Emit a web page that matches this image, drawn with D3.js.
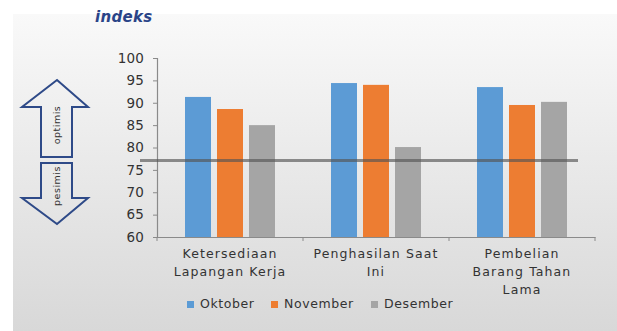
<!DOCTYPE html>
<html><head><meta charset="utf-8">
<script src="https://cdn.jsdelivr.net/npm/d3@7"></script>
<style>
html,body{margin:0;padding:0;background:#fff;}
svg{display:block;}
text{font-family:"DejaVu Sans",sans-serif;fill:#333;}
</style></head>
<body>
<svg id="c" width="617" height="331"></svg>
<script>
const categories = ["Ketersediaan Lapangan Kerja", "Penghasilan Saat Ini", "Pembelian Barang Tahan Lama"];
const categoryLines = [["Ketersediaan", "Lapangan Kerja"], ["Penghasilan Saat", "Ini"], ["Pembelian", "Barang Tahan", "Lama"]];
const seriesNames = ["Oktober", "November", "Desember"];
const oktober = [91.3, 94.4, 93.5];
const november = [88.6, 94.0, 89.5];
const desember = [85.0, 80.1, 90.2];
const yTicks = [60, 65, 70, 75, 80, 85, 90, 95, 100];
const threshold = 77.1;
const colors = ["#5b9bd5", "#ed7d31", "#a5a5a5"];
const yTitle = "indeks";
const arrowLabels = ["optimis", "pesimis"];

const series = [oktober, november, desember];
const svg = d3.select("#c");

// background gradient panel
const defs = svg.append("defs");
const g0 = defs.append("linearGradient").attr("id", "bg").attr("x1", 0).attr("y1", 0).attr("x2", 0).attr("y2", 1);
g0.append("stop").attr("offset", "0%").attr("stop-color", "#f9f9f9");
g0.append("stop").attr("offset", "100%").attr("stop-color", "#d8d8d8");
const blur = defs.append("filter").attr("id", "sh").attr("x", "-20%").attr("y", "-20%").attr("width", "140%").attr("height", "140%");
blur.append("feGaussianBlur").attr("stdDeviation", 0.5);
svg.append("rect").attr("x", 13).attr("y", 14).attr("width", 604).attr("height", 317).attr("fill", "url(#bg)");

const x = d3.scaleBand().domain(categories).range([157, 595]).padding(0);
const xi = d3.scaleBand().domain(seriesNames).range([28, 118]).paddingInner(0.1875).paddingOuter(0);
const y = d3.scaleLinear().domain([60, 100]).range([237, 58]);

// bars
const groups = svg.append("g").selectAll("g").data(categories).join("g")
  .attr("transform", d => `translate(${x(d)},0)`);
groups.selectAll("rect").data((d, i) => seriesNames.map((s, j) => ({ s, v: series[j][i], c: colors[j] })))
  .join("rect")
  .attr("x", d => xi(d.s)).attr("width", xi.bandwidth())
  .attr("y", d => y(d.v)).attr("height", d => y(60) - y(d.v))
  .attr("fill", d => d.c).attr("filter", "url(#sh)");

// y axis
const ya = svg.append("g").attr("transform", "translate(157,0)")
  .call(d3.axisLeft(y).tickValues(yTicks).tickSize(4).tickPadding(9));
ya.select(".domain").attr("stroke", "#8a8a8a").attr("stroke-width", 1.2);
ya.selectAll(".tick line").attr("stroke", "#8a8a8a");
ya.selectAll(".tick text").attr("font-size", 13.5).attr("font-family", "DejaVu Sans").attr("fill", "#2e2e2e").attr("letter-spacing", "0.2px");

// x axis
const xa = svg.append("g").attr("transform", "translate(0,237)")
  .call(d3.axisBottom(x).tickSize(0).tickFormat(""));
xa.select(".domain").attr("stroke", "#8a8a8a").attr("stroke-width", 1.2);
const bounds = categories.map(c => x(c)).concat([x(categories[categories.length - 1]) + x.bandwidth()]);
xa.selectAll("line.b").data(bounds).join("line").attr("class", "b")
  .attr("x1", d => d).attr("x2", d => d).attr("y1", 0).attr("y2", 4).attr("stroke", "#8a8a8a");

// category labels
categories.forEach((c, i) => {
  const t = svg.append("text").attr("text-anchor", "middle").attr("font-size", 12.5).attr("letter-spacing", "1.1px")
    .attr("fill", "#2e2e2e");
  categoryLines[i].forEach((ln, k) => {
    t.append("tspan").attr("x", x(c) + x.bandwidth() / 2).attr("y", 258 + k * 18).text(ln);
  });
});

// threshold line
svg.append("line").attr("x1", 140).attr("x2", 578).attr("y1", y(threshold)).attr("y2", y(threshold))
  .attr("stroke", "#555").attr("stroke-opacity", 0.65).attr("stroke-width", 3);

// title
svg.append("text").attr("x", 95).attr("y", 22).attr("font-size", 15).attr("font-style", "italic").attr("font-weight", "bold")
  .attr("fill", "#2a4488").style("fill", "#2a4488").attr("letter-spacing", "0.3px").text(yTitle);

// arrows
const up = [[57, 80], [88, 107], [72, 107], [72, 157], [41, 157], [41, 107], [22, 107]];
const down = [[41, 163], [72, 163], [72, 198], [88, 198], [57, 224], [22, 198], [41, 198]];
[up, down].forEach(p => {
  svg.append("path").attr("d", d3.line()(p) + "Z").attr("fill", "none").attr("stroke", "#2e4a88").attr("stroke-width", 2)
    .attr("stroke-linejoin", "miter");
});
svg.append("text").attr("transform", "translate(60,125) rotate(-90)").attr("text-anchor", "middle")
  .attr("font-size", 9.5).attr("letter-spacing", "0.5px").text(arrowLabels[0]);
svg.append("text").attr("transform", "translate(60,186) rotate(-90)").attr("text-anchor", "middle")
  .attr("font-size", 9.5).attr("letter-spacing", "0.5px").text(arrowLabels[1]);

// legend
const legX = [187, 271, 371];
seriesNames.forEach((s, j) => {
  svg.append("rect").attr("x", legX[j]).attr("y", 301).attr("width", 7).attr("height", 7).attr("fill", colors[j]);
  svg.append("text").attr("x", legX[j] + 13).attr("y", 308).attr("font-size", 12.5).attr("letter-spacing", "0.6px")
    .attr("fill", "#2e2e2e").text(s);
});
</script>
</body></html>
